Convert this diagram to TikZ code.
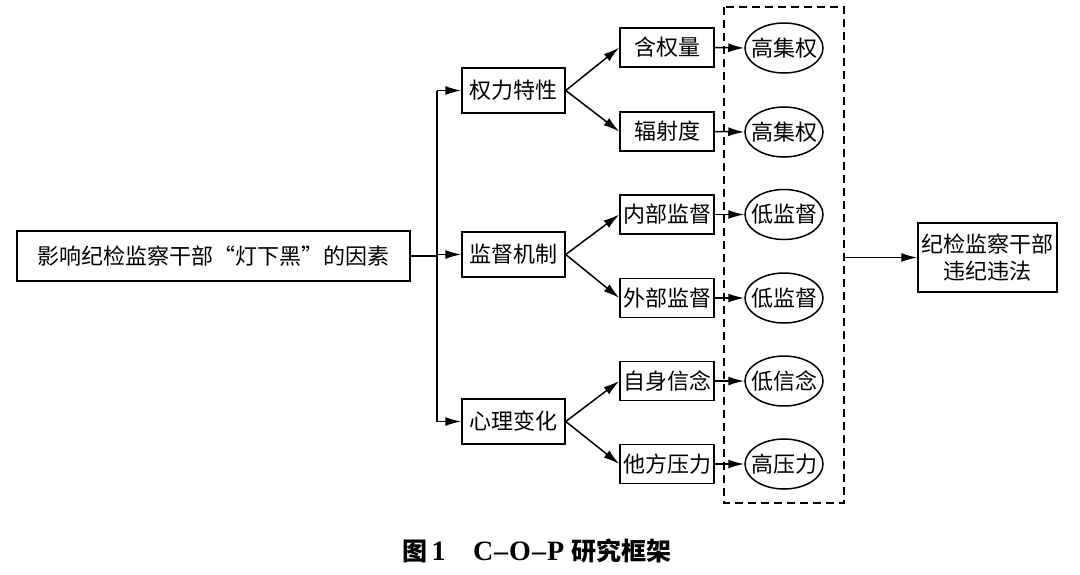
\documentclass[tikz,border=0pt]{standalone}
\usepackage{fontspec}
\setmainfont{Noto Sans CJK SC}
\newfontfamily\capserif{Liberation Serif}
\usetikzlibrary{arrows.meta,shapes.geometric}
\begin{document}
\begin{tikzpicture}[x=1pt,y=-1pt,
  every node/.style={font=\fontsize{22}{25}\selectfont, inner sep=0pt},
  box/.style={draw, line width=1.5pt, rectangle, align=center},
  midbox/.style={box, minimum width=103pt, minimum height=45pt},
  leafbox/.style={box, minimum width=94pt, minimum height=39pt},
  oval/.style={draw, line width=1.5pt, ellipse, minimum width=78pt, minimum height=50pt},
  conn/.style={line width=1.5pt},
  arr/.style={conn, -{Latex[length=16pt,width=9pt]}},
  dashbox/.style={draw, line width=1.5pt, dash pattern=on 8pt off 5pt}
]
\useasboundingbox (0,0) rectangle (1080,574);
\fill[white] (0,0) rectangle (1080,574);

\node[box, minimum width=393pt, minimum height=50pt] (main) at (213.5,256) {影响纪检监察干部“灯下黑”的因素};

\node[midbox] (m1) at (513.5,90.5) {权力特性};
\node[midbox] (m2) at (513.5,254.5) {监督机制};
\node[midbox] (m3) at (513.5,421.5) {心理变化};

\node[leafbox] (l1) at (667,47.5) {含权量};
\node[leafbox] (l2) at (667,131.5) {辐射度};
\node[leafbox] (l3) at (667,214.5) {内部监督};
\node[leafbox] (l4) at (667,298) {外部监督};
\node[leafbox] (l5) at (667,381) {自身信念};
\node[leafbox] (l6) at (667,464) {他方压力};

\node[oval] (e1) at (784,48) {\makebox[48pt]{高集权}};
\node[oval] (e2) at (784,132) {\makebox[48pt]{高集权}};
\node[oval] (e3) at (784,214.5) {\makebox[48pt]{低监督}};
\node[oval] (e4) at (784,298) {\makebox[48pt]{低监督}};
\node[oval] (e5) at (784,381) {\makebox[48pt]{低信念}};
\node[oval] (e6) at (784,464) {\makebox[48pt]{高压力}};

\coordinate (dtl) at (724,7);
\coordinate (dbr) at (844,503);
\draw[dashbox] (dtl) rectangle (dbr);
\coordinate (dout) at (844,257.5);

\node[box, minimum width=139pt, minimum height=69pt, font=\fontsize{22}{27}\selectfont] (final) at (987.5,257.5) {纪检监察干部\\违纪违法};

% trunk
\coordinate (vt) at (437,90.5);
\coordinate (vb) at (437,421.5);
\coordinate (vm) at (437,256);
\draw[conn] (main.east) -- (vm);
\draw[conn] (vt) -- (vb);
\draw[arr] (vt) -- (m1.west);
\draw[arr] (437,254.5) -- (m2.west);
\draw[arr] (vb) -- (m3.west);

\draw[arr] (m1.east) -- (l1.west);
\draw[arr] (m1.east) -- (l2.west);
\draw[arr] (m2.east) -- (l3.west);
\draw[arr] (m2.east) -- (l4.west);
\draw[arr] (m3.east) -- (l5.west);
\draw[arr] (m3.east) -- (l6.west);

\foreach \i in {1,...,6} {\draw[arr] (l\i.east) -- (e\i.west);}

\draw[arr] (dout) -- (final.west);

\node[font=\fontsize{25}{28}\selectfont\bfseries] (cap) at (537,551) {图\,{\capserif\fontsize{28}{30}\selectfont 1}\hspace{1.1em}{\capserif\fontsize{28}{30}\selectfont C{\kern1pt}–{\kern1pt}O{\kern1pt}–{\kern1pt}P}\hspace{0.3em}研究框架};
\end{tikzpicture}
\end{document}
